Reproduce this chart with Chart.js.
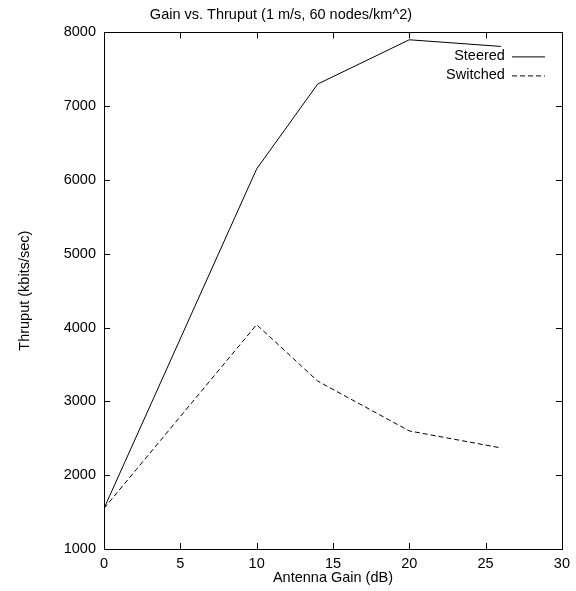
<!DOCTYPE html>
<html>
<head>
<meta charset="utf-8">
<script src="https://cdn.jsdelivr.net/npm/chart.js@4.4.1/dist/chart.umd.min.js"></script>
<style>
  html, body { margin: 0; padding: 0; background: #fff; }
  #wrap { width: 576px; height: 591px; }
</style>
</head>
<body>
<div id="wrap"><canvas id="gainChart" width="576" height="591"></canvas></div>
<script>
const gains = [0, 10, 14, 20, 26];
const steered = [1550, 6150, 7300, 7900, 7810];
const switched = [1550, 4040, 3275, 2600, 2370];
const xTicks = [0, 5, 10, 15, 20, 25, 30];
const yTicks = [1000, 2000, 3000, 4000, 5000, 6000, 7000, 8000];

const FONT = "'Liberation Sans', Arial, Helvetica, sans-serif";
const FS = 14.5;

// gnuplot style frame: border all round, ticks pointing inwards on every side
const framePlugin = {
  id: "frame",
  afterDraw(chart) {
    const { ctx, chartArea: a, scales } = chart;
    const len = 6;
    ctx.save();
    ctx.strokeStyle = "#000";
    ctx.lineWidth = 1;
    ctx.beginPath();
    xTicks.forEach(v => {
      const px = Math.round(scales.x.getPixelForValue(v)) + 0.5;
      ctx.moveTo(px, a.bottom); ctx.lineTo(px, a.bottom - len);
      ctx.moveTo(px, a.top); ctx.lineTo(px, a.top + len);
    });
    yTicks.forEach(v => {
      const py = Math.round(scales.y.getPixelForValue(v)) + 0.5;
      ctx.moveTo(a.left, py); ctx.lineTo(a.left + len, py);
      ctx.moveTo(a.right, py); ctx.lineTo(a.right - len, py);
    });
    ctx.stroke();
    ctx.strokeRect(Math.round(a.left) + 0.5, Math.round(a.top) + 0.5,
      Math.round(a.right - a.left), Math.round(a.bottom - a.top));

    // legend inside top right
    ctx.font = FS + "px " + FONT;
    ctx.fillStyle = "#000";
    ctx.textAlign = "right";
    ctx.textBaseline = "middle";
    const items = [
      { label: "Steered", dash: [] },
      { label: "Switched", dash: [5, 3] }
    ];
    items.forEach((it, i) => {
      const y = a.top + 24 + i * 19;
      ctx.fillText(it.label, a.right - 57, y);
      ctx.setLineDash(it.dash);
      ctx.beginPath();
      ctx.moveTo(a.right - 50, y + 0.5);
      ctx.lineTo(a.right - 17, y + 0.5);
      ctx.stroke();
    });
    ctx.restore();
  }
};

new Chart(document.getElementById("gainChart"), {
  type: "line",
  data: {
    datasets: [
      {
        label: "Steered",
        data: gains.map((g, i) => ({ x: g, y: steered[i] })),
        borderColor: "#000",
        borderWidth: 1,
        pointRadius: 0,
        tension: 0,
        fill: false
      },
      {
        label: "Switched",
        data: gains.map((g, i) => ({ x: g, y: switched[i] })),
        borderColor: "#000",
        borderWidth: 1,
        borderDash: [5, 3],
        pointRadius: 0,
        tension: 0,
        fill: false
      }
    ]
  },
  options: {
    responsive: false,
    animation: false,
    layout: { padding: { left: 0, right: 14, top: 0, bottom: 0 } },
    plugins: {
      legend: { display: false },
      tooltip: { enabled: false },
      title: {
        display: true,
        text: "Gain vs. Thruput (1 m/s, 60 nodes/km^2)",
        color: "#000",
        font: { family: FONT, size: FS, weight: "normal" },
        padding: { top: 6, bottom: 9 }
      }
    },
    scales: {
      x: {
        type: "linear",
        min: 0,
        max: 30,
        afterBuildTicks: s => { s.ticks = xTicks.map(v => ({ value: v })); },
        afterFit: s => { s.height = 42; },
        grid: { display: false, drawTicks: false },
        border: { display: false },
        ticks: { color: "#000", padding: 6, maxRotation: 0, font: { family: FONT, size: FS },
          callback: v => String(v) },
        title: {
          display: true,
          text: "Antenna Gain (dB)",
          color: "#000",
          font: { family: FONT, size: FS },
          padding: { top: 0, bottom: 4 }
        }
      },
      y: {
        min: 1000,
        max: 8000,
        afterBuildTicks: s => { s.ticks = yTicks.map(v => ({ value: v })); },
        afterFit: s => { s.width = 104; },
        grid: { display: false, drawTicks: false },
        border: { display: false },
        ticks: { color: "#000", padding: 8, font: { family: FONT, size: FS },
          callback: v => String(v) },
        title: {
          display: true,
          text: "Thruput (kbits/sec)",
          color: "#000",
          font: { family: FONT, size: FS },
          padding: { top: 16, bottom: 0 }
        }
      }
    }
  },
  plugins: [framePlugin]
});
</script>
</body>
</html>
